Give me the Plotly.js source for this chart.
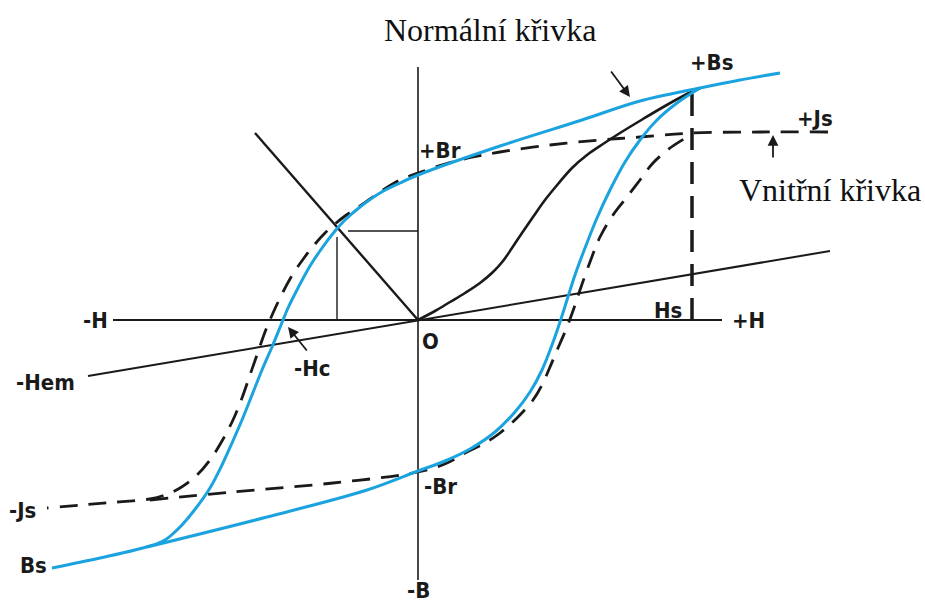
<!DOCTYPE html>
<html>
<head>
<meta charset="utf-8">
<script src="https://cdn.plot.ly/plotly-3.0.1.min.js"></script>
<style>
  html, body { margin: 0; padding: 0; background: #fff; }
  #chart { width: 925px; height: 604px; }
</style>
</head>
<body>
<div id="chart"></div>
<script>
// Hysteresis loop of a permanent magnet: H (field strength) vs B / J.

// Axis lines (H axis and B axis)
const hAxisH = [-305, 304];
const hAxisB = [0, 0];
const bAxisH = [0, 0];
const bAxisB = [253, -260];

// Normal curve (B), descending branch from +Bs through +Br, -Hc to -Bs
const normDownH = [362, 322, 282, 222, 164, 82, 0, -18, -38, -58, -73, -83, -96, -108, -120, -130, -137, -146, -156, -166, -176, -186, -196, -208, -222, -238, -253, -268, -318, -366];
const normDownB = [247, 240, 232, 219, 200, 174, 145, 137, 127, 113, 100, 89, 72, 54, 32, 12, -5, -27, -50, -75, -100, -123, -145, -168, -188, -207, -220, -226, -238, -248];

// Normal curve (B), ascending branch from -Bs through -Br back to +Bs
const normUpH = [-271, -151, -51, 0, 27, 52, 77, 97, 112, 124, 134, 142, 149, 157, 167, 179, 192, 207, 222, 239, 259, 282];
const normUpB = [-227, -197, -170, -151, -141, -129, -112, -92, -72, -50, -25, -2, 20, 45, 72, 102, 130, 158, 180, 200, 217, 232];

// Intrinsic curve (J), descending branch from +Js to -Js
const intrDownH = [410, 342, 275, 222, 182, 132, 82, 55, 27, 0, -18, -35, -48, -61, -73, -83, -93, -103, -114, -125, -135, -145, -153, -160, -168, -176, -185, -196, -208, -222, -238, -253, -268, -301, -371];
const intrDownB = [188, 188, 187, 183, 180, 175, 168, 163, 156, 147, 140, 130, 121, 112, 104, 96, 87, 76, 62, 46, 28, 7, -12, -32, -55, -78, -100, -121, -140, -156, -168, -175, -179, -182, -188];

// Intrinsic curve (J), ascending branch
const intrUpH = [-268, -185, -85, 0, 29, 49, 67, 82, 99, 115, 124, 132, 140, 149, 156, 162, 172, 182, 195, 209, 222, 235, 252, 269, 275];
const intrUpB = [-180, -172, -163, -152, -143, -132, -123, -113, -98, -80, -65, -47, -28, -7, 12, 30, 58, 83, 105, 123, 140, 157, 172, 183, 187];

// Initial magnetisation curve from the origin to saturation
const initH = [0, 17, 32, 47, 62, 75, 85, 94, 104, 115, 127, 140, 154, 169, 185, 202, 225, 247, 267, 282];
const initB = [0, 9, 18, 27, 37, 48, 59, 72, 87, 103, 120, 136, 152, 165, 176, 187, 201, 214, 225, 232];

// Straight line through the origin towards -Hem
const hemH = [-330, 412];
const hemB = [-56, 69];

// Load line through the working point
const loadH = [-163, 0];
const loadB = [187, 0];

// Working point projections
const projHorizH = [-70, 0];
const projHorizB = [89, 89];
const projVertH = [-81, -81];
const projVertB = [0, 83];

// Saturation field Hs
const hsH = [274, 274];
const hsB = [0, 235];

const BLUE = '#1ba3df';
const INK = '#1a1a1a';

function line(x, y, color, width, dash, shape) {
  return {
    x: x, y: y, type: 'scatter', mode: 'lines', hoverinfo: 'skip',
    line: { color: color, width: width, dash: dash || 'solid', shape: shape || 'linear', smoothing: 1 }
  };
}

const traces = [
  line(hAxisH, hAxisB, INK, 2),
  line(bAxisH, bAxisB, INK, 1.6),
  line(hemH, hemB, INK, 2),
  line(loadH, loadB, INK, 2.4),
  line(projHorizH, projHorizB, INK, 1.4),
  line(projVertH, projVertB, INK, 1.4),
  line(hsH, hsB, INK, 3.5, '22px,12px'),
  line(intrDownH, intrDownB, INK, 2.8, '18px,11px', 'spline'),
  line(intrUpH, intrUpB, INK, 2.8, '18px,11px', 'spline'),
  line(initH, initB, INK, 2.6, 'solid', 'spline'),
  line(normDownH, normDownB, BLUE, 3, 'solid', 'spline'),
  line(normUpH, normUpB, BLUE, 3, 'solid', 'spline')
];

const SANS = { family: '"Liberation Sans Narrow", "DejaVu Sans Condensed", sans-serif', size: 22, color: INK };
const SERIF = { family: '"Liberation Serif", "DejaVu Serif", serif', size: 32, color: '#111' };

function label(text, x, y, xanchor, font) {
  return {
    text: '<b>' + text + '</b>', x: x, y: y, xref: 'x', yref: 'y',
    xanchor: xanchor || 'center', yanchor: 'middle', showarrow: false,
    font: font || SANS
  };
}

const annotations = [
  label('-H', -308, 0, 'right'),
  label('+H', 312, 0, 'left'),
  label('O', 12, -21),
  label('-Hc', -106, -48),
  label('-Hem', -373, -62),
  label('-Js', -396, -190),
  label('Bs', -385, -245),
  label('-B', 0, -270),
  label('-Br', 22, -166),
  label('+Br', 22, 170),
  label('+Bs', 293, 258),
  label('+Js', 397, 202),
  label('Hs', 250, 10),
  {
    text: 'Normální křivka', x: 72, y: 290, xref: 'x', yref: 'y',
    xanchor: 'center', yanchor: 'middle', showarrow: false, font: SERIF
  },
  {
    text: 'Vnitřní křivka', x: 412, y: 130, xref: 'x', yref: 'y',
    xanchor: 'center', yanchor: 'middle', showarrow: false, font: SERIF
  },
  // pointer to -Hc
  { x: -130, y: -7, ax: 20, ay: 25, text: '', showarrow: true, arrowhead: 2, arrowsize: 1.2, arrowwidth: 1.8, arrowcolor: INK, xref: 'x', yref: 'y' },
  // pointer to the normal curve
  { x: 212, y: 223, ax: -20, ay: -27, text: '', showarrow: true, arrowhead: 2, arrowsize: 1.2, arrowwidth: 1.8, arrowcolor: INK, xref: 'x', yref: 'y' },
  // pointer to the intrinsic curve
  { x: 355, y: 185, ax: 0, ay: 24, text: '', showarrow: true, arrowhead: 2, arrowsize: 1.2, arrowwidth: 1.8, arrowcolor: INK, xref: 'x', yref: 'y' }
];

const layout = {
  width: 925, height: 604,
  margin: { l: 0, r: 0, t: 0, b: 0 },
  paper_bgcolor: '#ffffff', plot_bgcolor: '#ffffff',
  showlegend: false,
  xaxis: { range: [-418, 507], visible: false, fixedrange: true },
  yaxis: { range: [-284, 320], visible: false, fixedrange: true },
  annotations: annotations
};

Plotly.newPlot('chart', traces, layout, { staticPlot: true, displayModeBar: false });
</script>
</body>
</html>
